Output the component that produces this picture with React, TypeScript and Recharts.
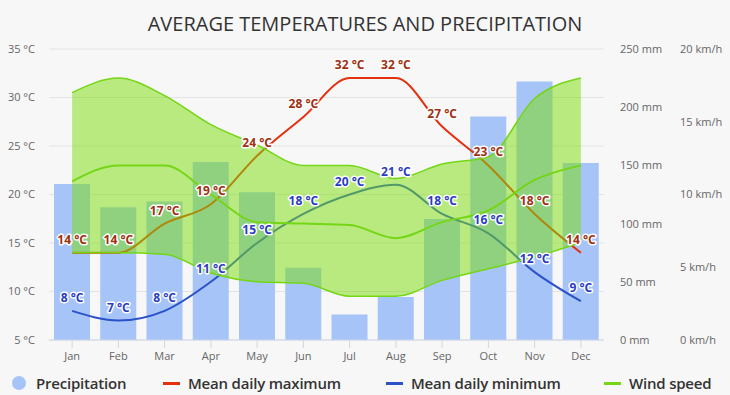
import React from 'react'
import {
  ComposedChart,
  Bar,
  Line,
  Area,
  XAxis,
  YAxis,
  CartesianGrid,
  LabelList,
} from 'recharts'

// ─── Data ───
const MONTHS = ['Jan', 'Feb', 'Mar', 'Apr', 'May', 'Jun', 'Jul', 'Aug', 'Sep', 'Oct', 'Nov', 'Dec']
const PRECIPITATION = [134, 114, 119, 153, 127, 62, 22, 37, 104, 192, 222, 152]
const MAX_TEMP = [14, 14, 17, 19, 24, 28, 32, 32, 27, 23, 18, 14]
const MIN_TEMP = [8, 7, 8, 11, 15, 18, 20, 21, 18, 16, 12, 9]
const WIND_LOW = [6.0, 6.0, 5.9, 4.6, 4.0, 3.9, 3.0, 3.0, 4.1, 4.9, 5.7, 6.7]
const WIND_HIGH = [17.0, 18.0, 16.8, 14.8, 13.4, 12.0, 12.0, 11.1, 12.1, 12.6, 16.6, 18.0]
const WIND_MEAN = [10.9, 12.0, 12.0, 10.0, 8.1, 8.0, 7.9, 7.0, 8.1, 8.9, 11.0, 12.0]

const TEMP_TICKS = [5, 10, 15, 20, 25, 30, 35]
const PRECIP_TICKS = [0, 50, 100, 150, 200, 250]
const WIND_TICKS = [0, 5, 10, 15, 20]

const COLORS = {
  bg: '#f7f7f7',
  bar: '#a6c4f7',
  max: '#e4300f',
  maxLabel: '#9e3011',
  min: '#2a52c9',
  minLabel: '#2b3cc2',
  wind: '#74d615',
  band: '#79dd09',
  axisText: '#666666',
}

const data = MONTHS.map((m, i) => ({
  month: m,
  precip: PRECIPITATION[i],
  max: MAX_TEMP[i],
  min: MIN_TEMP[i],
  windRange: [WIND_LOW[i], WIND_HIGH[i]],
  wind: WIND_MEAN[i],
}))

const makeLabel = (color: string) => (props: any) => {
  const { x, y, value } = props
  return (
    <text
      x={x}
      y={y - 9}
      textAnchor="middle"
      fontSize={12}
      fontWeight={700}
      fontFamily="'Open Sans', sans-serif"
      fill={color}
      stroke="#ffffff"
      strokeWidth={3}
      strokeLinejoin="round"
      paintOrder="stroke"
    >
      {`${value} °C`}
    </text>
  )
}

const tickStyle = { fontSize: 11, fill: COLORS.axisText, fontFamily: "'Open Sans', sans-serif" }

function LegendItem({ x, kind, color, label }: { x: number; kind: 'dot' | 'line'; color: string; label: string }) {
  return (
    <div style={{ position: 'absolute', left: x, top: 373, height: 20, display: 'flex', alignItems: 'center' }}>
      {kind === 'dot' ? (
        <span style={{ width: 14, height: 14, borderRadius: 7, background: color, marginRight: 10 }} />
      ) : (
        <span style={{ width: 17, height: 3, background: color, marginRight: 8 }} />
      )}
      <span style={{ fontSize: 15, fontWeight: 600, color: '#333', fontFamily: "'Open Sans', sans-serif", letterSpacing: -0.2 }}>
        {label}
      </span>
    </div>
  )
}

export default function App() {
  return (
    <div style={{ position: 'relative', width: 730, height: 395, background: COLORS.bg, overflow: 'hidden' }}>
      <style>{'body{margin:0}'}</style>
      <div
        style={{
          position: 'absolute',
          top: 10,
          left: 0,
          width: 730,
          textAlign: 'center',
          fontSize: 20,
          color: '#333',
          fontFamily: "'Open Sans', sans-serif",
        }}
      >
        AVERAGE TEMPERATURES AND PRECIPITATION
      </div>
      <ComposedChart
        width={730}
        height={395}
        data={data}
        margin={{ top: 49, right: 0, bottom: 25, left: 0 }}
        style={{ position: 'absolute', top: 0, left: 0 }}
      >
        <CartesianGrid yAxisId="temp" vertical={false} stroke="#e3e3e3" />
        <XAxis
          dataKey="month"
          height={30}
          tick={tickStyle}
          tickSize={8}
          tickMargin={4}
          axisLine={{ stroke: '#ccd6eb' }}
          tickLine={{ stroke: '#ccd6eb' }}
        />
        <YAxis
          yAxisId="temp"
          domain={[5, 35]}
          ticks={TEMP_TICKS}
          width={49}
          axisLine={false}
          tickLine={false}
          tickSize={0}
          tickMargin={14}
          tick={tickStyle}
          tickFormatter={(v: number) => `${v} °C`}
        />
        <YAxis
          yAxisId="precip"
          orientation="right"
          domain={[0, 250]}
          ticks={PRECIP_TICKS}
          width={60}
          axisLine={false}
          tickLine={false}
          tickSize={0}
          tickMargin={16}
          tick={tickStyle}
          tickFormatter={(v: number) => `${v} mm`}
        />
        <YAxis
          yAxisId="wind"
          orientation="right"
          domain={[0, 20]}
          ticks={WIND_TICKS}
          width={66}
          axisLine={false}
          tickLine={false}
          tickSize={0}
          tickMargin={16}
          tick={tickStyle}
          tickFormatter={(v: number) => `${v} km/h`}
        />
        <Bar yAxisId="precip" dataKey="precip" fill={COLORS.bar} barSize={36} isAnimationActive={false} />
        <Line
          yAxisId="temp"
          type="monotone"
          dataKey="max"
          stroke={COLORS.max}
          strokeWidth={2}
          dot={false}
          isAnimationActive={false}
        />
        <Line
          yAxisId="temp"
          type="monotone"
          dataKey="min"
          stroke={COLORS.min}
          strokeWidth={2}
          dot={false}
          isAnimationActive={false}
        />
        <Area
          yAxisId="wind"
          type="monotone"
          dataKey="windRange"
          fill={COLORS.band}
          fillOpacity={0.5}
          stroke={COLORS.wind}
          strokeWidth={1.5}
          zIndex={450}
          isAnimationActive={false}
        />
        <Line
          yAxisId="wind"
          type="monotone"
          dataKey="wind"
          stroke={COLORS.wind}
          strokeWidth={2}
          dot={false}
          zIndex={460}
          isAnimationActive={false}
        />
        <Line
          yAxisId="temp"
          type="monotone"
          dataKey="max"
          stroke="none"
          dot={false}
          legendType="none"
          isAnimationActive={false}
        >
          <LabelList dataKey="max" content={makeLabel(COLORS.maxLabel)} />
        </Line>
        <Line
          yAxisId="temp"
          type="monotone"
          dataKey="min"
          stroke="none"
          dot={false}
          legendType="none"
          isAnimationActive={false}
        >
          <LabelList dataKey="min" content={makeLabel(COLORS.minLabel)} />
        </Line>
      </ComposedChart>
      <LegendItem x={12} kind="dot" color={COLORS.bar} label="Precipitation" />
      <LegendItem x={163} kind="line" color={COLORS.max} label="Mean daily maximum" />
      <LegendItem x={386} kind="line" color={COLORS.min} label="Mean daily minimum" />
      <LegendItem x={604} kind="line" color={COLORS.wind} label="Wind speed" />
    </div>
  )
}
